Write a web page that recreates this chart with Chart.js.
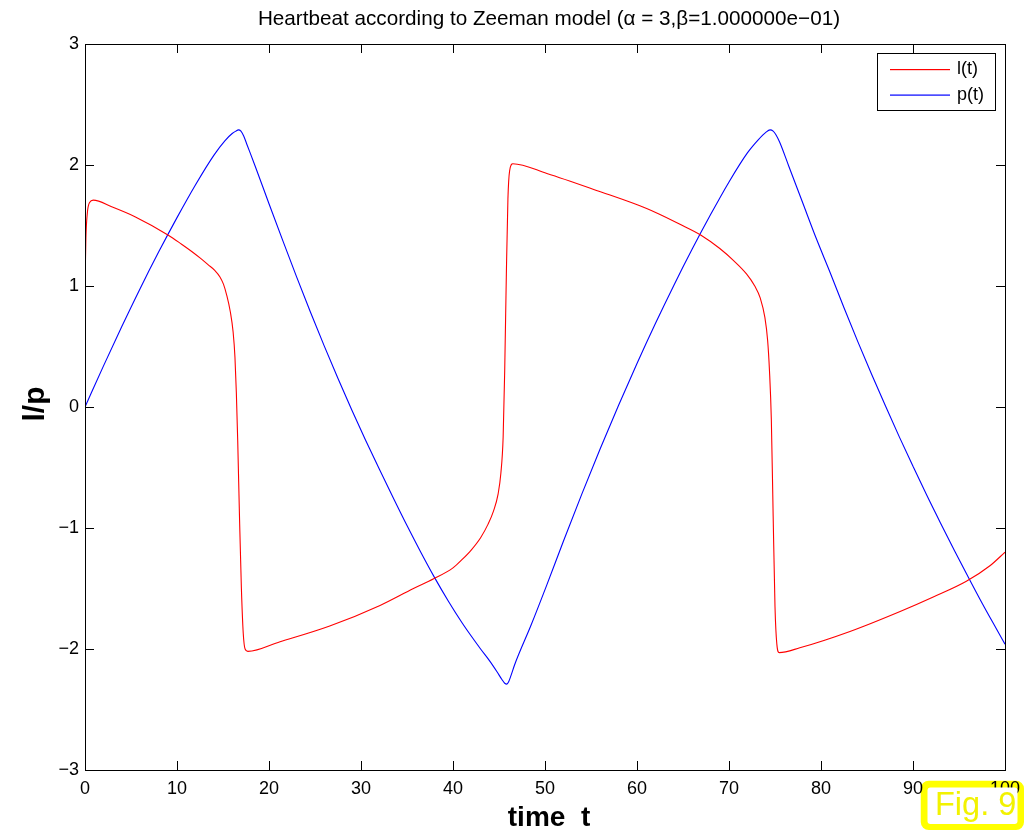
<!DOCTYPE html>
<html>
<head>
<meta charset="utf-8">
<script src="https://cdn.jsdelivr.net/npm/chart.js@4.4.1/dist/chart.umd.min.js"></script>
<style>
  html, body { margin: 0; padding: 0; background: #ffffff; }
  canvas { display: block; }
</style>
</head>
<body>
<canvas id="heart" width="1024" height="830"></canvas>
<script>
// Labels and texts
const chartTitle = 'Heartbeat according to Zeeman model (\u03B1 = 3,\u03B2=1.000000e\u221201)';
const xTitle = 'time  t';
const yTitle = 'l/p';
const seriesNames = ['l(t)', 'p(t)'];
const figLabel = 'Fig. 9';

// Tick values
const xTicks = [0, 10, 20, 30, 40, 50, 60, 70, 80, 90, 100];
const yTicks = [-3, -2, -1, 0, 1, 2, 3];

// l(t): time samples and values
const lTime = [0, 0.1, 0.25, 0.5, 0.9, 2.9, 5.43, 9.06, 10.5, 11.6, 12.5, 13.4, 14.1, 14.67, 15.05, 15.4,
  15.8, 16.1, 16.3, 16.45, 16.6, 16.8, 17.0, 17.2, 17.4, 17.7, 21.2, 26.6, 32.07, 35.7, 37.9, 40.0, 41.0,
  42.0, 43.0, 43.8, 44.4, 44.9, 45.2, 45.45, 45.62, 45.8, 45.97, 46.15, 46.5, 50.2, 55.6, 61.05, 64.67,
  66.96, 69.0, 70.5, 71.9, 72.8, 73.4, 73.9, 74.2, 74.4, 74.6, 74.8, 75.0, 75.2, 75.45, 77.7, 83.15, 88.6,
  92.2, 95.8, 98.4, 100];
const lValue = [1.0, 1.4, 1.6, 1.69, 1.71, 1.655, 1.573, 1.42, 1.345, 1.285, 1.232, 1.175, 1.13, 1.075, 1.015, 0.925,
  0.785, 0.62, 0.41, 0.12, -0.28, -0.93, -1.5, -1.87, -2.0, -2.02, -1.94, -1.81, -1.64, -1.50, -1.42, -1.33, -1.26,
  -1.18, -1.08, -0.97, -0.86, -0.72, -0.55, -0.25, 0.3, 1.1, 1.72, 1.95, 2.01, 1.93, 1.79, 1.64, 1.51,
  1.42, 1.31, 1.21, 1.10, 1.00, 0.90, 0.74, 0.55, 0.30, -0.1, -0.9, -1.65, -1.96, -2.03, -1.99, -1.855, -1.69,
  -1.57, -1.44, -1.31, -1.20];

// p(t): time samples and values
const pTime = [0, 2, 4, 6, 8, 10, 12, 14, 15.2, 16.0, 16.4, 16.67, 16.95, 17.25, 17.6, 18.5, 20.0, 21.5,
  23.0, 24.5, 26.0, 27.5, 29.0, 30.5, 32.0, 33.5, 35.0, 36.5, 38.0, 39.5, 41.0, 42.0, 43.0, 44.0, 44.8,
  45.3, 45.65, 45.85, 46.05, 46.3, 46.7, 48.5, 50.2, 52.0, 54.0, 56.0, 58.0, 60.0, 62.0, 64.0, 66.0, 68.0,
  70.0, 72.0, 73.2, 74.0, 74.46, 74.8, 75.1, 75.5, 76.5, 78.0, 79.5, 81.0, 82.5, 84.0, 85.5, 87.0, 88.5,
  90.0, 91.5, 93.0, 94.5, 96.0, 97.5, 99.0, 100];
const pValue = [0, 0.338, 0.665, 0.98, 1.28, 1.565, 1.835, 2.08, 2.2, 2.26, 2.28, 2.29, 2.28, 2.24, 2.17, 1.99, 1.68, 1.375,
  1.075, 0.785, 0.505, 0.235, -0.025, -0.275, -0.515, -0.75, -0.98, -1.2, -1.41, -1.605, -1.785, -1.895, -2.0, -2.1, -2.19,
  -2.25, -2.285, -2.29, -2.27, -2.22, -2.13, -1.80, -1.47, -1.11, -0.72, -0.345, 0.015, 0.36, 0.69, 1.005, 1.305, 1.59,
  1.86, 2.10, 2.21, 2.27, 2.29, 2.28, 2.25, 2.19, 1.99, 1.69, 1.39, 1.11, 0.82, 0.54, 0.27, 0.01, -0.245,
  -0.49, -0.73, -0.96, -1.185, -1.405, -1.62, -1.825, -1.96];

const seriesColors = ['#ff0000', '#0000ff'];

const toPoints = (ts, vs) => ts.map((t, i) => ({ x: t, y: vs[i] }));
const minusLabel = v => (v < 0 ? '\u2212' + Math.abs(v) : String(v));

const FONT = '"Liberation Sans", Arial, Helvetica, sans-serif';
const TICK_LEN = 9;

// keeps the plot box fixed: no extra room reserved for overhanging tick labels
const noLabelOverhang = s => {
  s.paddingLeft = 0; s.paddingRight = 0; s.paddingTop = 0; s.paddingBottom = 0;
};

// Box frame with inward ticks on all four sides, legend, titles and the figure tag
const frameAndText = {
  id: 'frameAndText',
  afterDatasetsDraw(chart) {
    const { ctx, chartArea: a, scales: { x, y } } = chart;
    ctx.save();
    ctx.strokeStyle = '#000000';
    ctx.lineWidth = 1;
    ctx.beginPath();
    xTicks.forEach(v => {
      const px = Math.round(x.getPixelForValue(v)) + 0.5;
      ctx.moveTo(px, a.bottom); ctx.lineTo(px, a.bottom - TICK_LEN);
      ctx.moveTo(px, a.top); ctx.lineTo(px, a.top + TICK_LEN);
    });
    yTicks.forEach(v => {
      const py = Math.round(y.getPixelForValue(v)) + 0.5;
      ctx.moveTo(a.left, py); ctx.lineTo(a.left + TICK_LEN, py);
      ctx.moveTo(a.right, py); ctx.lineTo(a.right - TICK_LEN, py);
    });
    ctx.stroke();
    ctx.strokeRect(Math.round(a.left) + 0.5, Math.round(a.top) + 0.5,
      Math.round(a.right - a.left), Math.round(a.bottom - a.top));

    // figure tag: yellow rim first, the x tick labels are laid over it
    ctx.beginPath();
    ctx.roundRect(920.75, 780.75, 103.25, 49.25, 8);
    ctx.fillStyle = '#ffff00';
    ctx.fill();
    ctx.restore();
  },
  afterDraw(chart) {
    const { ctx } = chart;
    ctx.save();

    // figure tag: white face and label
    ctx.beginPath();
    ctx.roundRect(927.5, 787.5, 90, 36.5, 3);
    ctx.fillStyle = '#ffffff';
    ctx.fill();
    ctx.fillStyle = '#f2f200';
    ctx.font = '32.5px ' + FONT;
    ctx.textAlign = 'left';
    ctx.textBaseline = 'alphabetic';
    ctx.fillText(figLabel, 935, 815);

    // title
    ctx.fillStyle = '#000000';
    ctx.font = '20.7px ' + FONT;
    ctx.textAlign = 'center';
    ctx.fillText(chartTitle, 549, 25);

    // axis titles
    ctx.font = 'bold 28px ' + FONT;
    ctx.fillText(xTitle, 549, 826);
    ctx.save();
    ctx.translate(44, 404);
    ctx.rotate(-Math.PI / 2);
    ctx.font = 'bold 30px ' + FONT;
    ctx.fillText(yTitle, 0, 0);
    ctx.restore();

    // legend
    const lx = 877.5, ly = 53.5, lw = 118, lh = 57;
    ctx.fillStyle = '#ffffff';
    ctx.fillRect(lx, ly, lw, lh);
    ctx.strokeStyle = '#000000';
    ctx.lineWidth = 1;
    ctx.strokeRect(lx, ly, lw, lh);
    ctx.font = '18px ' + FONT;
    ctx.textAlign = 'left';
    ctx.textBaseline = 'middle';
    chart.data.datasets.forEach((ds, i) => {
      const rowY = 69 + i * 25.5;
      ctx.fillStyle = seriesColors[i];
      ctx.fillRect(890, rowY, 60, 1.2);
      ctx.fillStyle = '#000000';
      ctx.fillText(ds.label, 957, rowY + 0.5);
    });

    ctx.restore();
  }
};

new Chart(document.getElementById('heart'), {
  type: 'line',
  data: {
    datasets: [
      { label: seriesNames[0], data: toPoints(lTime, lValue), borderColor: seriesColors[0] },
      { label: seriesNames[1], data: toPoints(pTime, pValue), borderColor: seriesColors[1] }
    ]
  },
  options: {
    responsive: false,
    animation: false,
    devicePixelRatio: 1,
    layout: { padding: { left: 0, right: 19, top: 44, bottom: 0 } },
    elements: {
      point: { radius: 0 },
      line: { borderWidth: 1.1, cubicInterpolationMode: 'monotone', fill: false }
    },
    plugins: {
      legend: { display: false },
      title: { display: false },
      tooltip: { enabled: false }
    },
    scales: {
      x: {
        type: 'linear',
        min: 0,
        max: 100,
        afterBuildTicks: s => { s.ticks = xTicks.map(v => ({ value: v })); },
        afterFit: s => { s.height = 60; noLabelOverhang(s); },
        grid: { display: false, drawTicks: false },
        border: { display: false },
        ticks: {
          z: 1,
          color: '#000000',
          font: { family: FONT, size: 18 },
          padding: 8,
          maxRotation: 0,
          autoSkip: false,
          callback: v => minusLabel(v)
        }
      },
      y: {
        type: 'linear',
        min: -3,
        max: 3,
        afterBuildTicks: s => { s.ticks = yTicks.map(v => ({ value: v })); },
        afterFit: s => { s.width = 85; noLabelOverhang(s); },
        grid: { display: false, drawTicks: false },
        border: { display: false },
        ticks: {
          color: '#000000',
          font: { family: FONT, size: 18 },
          padding: 6,
          autoSkip: false,
          callback: v => minusLabel(v)
        }
      }
    }
  },
  plugins: [frameAndText]
});
</script>
</body>
</html>
